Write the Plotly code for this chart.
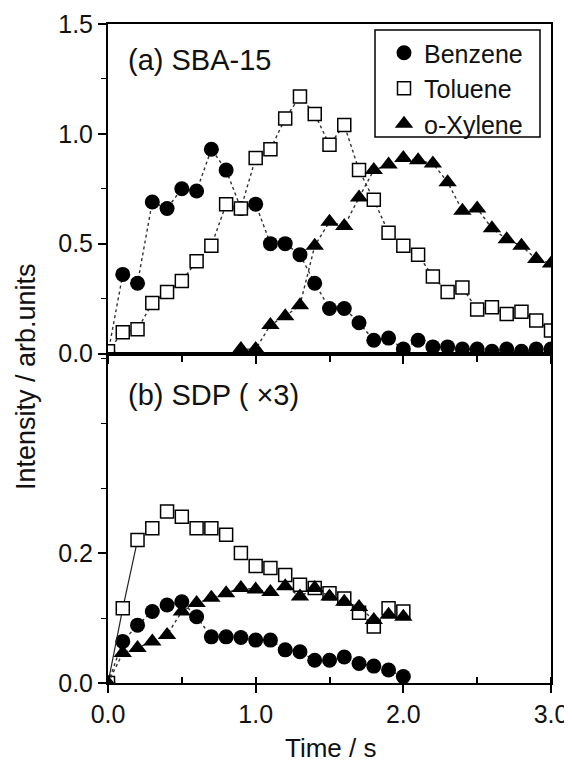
import plotly.graph_objects as go
from plotly.subplots import make_subplots

# ---------------- data ----------------
time_a = [0.0, 0.1, 0.2, 0.3, 0.4, 0.5, 0.6, 0.7, 0.8, 0.9, 1.0,
          1.1, 1.2, 1.3, 1.4, 1.5, 1.6, 1.7, 1.8, 1.9, 2.0,
          2.1, 2.2, 2.3, 2.4, 2.5, 2.6, 2.7, 2.8, 2.9, 3.0]
benzene_a = [0.0, 0.36, 0.32, 0.69, 0.66, 0.75, 0.74, 0.93, 0.835, 0.66, 0.68,
             0.50, 0.50, 0.45, 0.32, 0.205, 0.205, 0.14, 0.06, 0.07, 0.02,
             0.06, 0.03, 0.03, 0.02, 0.02, 0.01, 0.02, 0.01, 0.02, 0.02]
toluene_a = [0.01, 0.097, 0.11, 0.23, 0.28, 0.33, 0.42, 0.49, 0.68, 0.66, 0.89,
             0.93, 1.07, 1.17, 1.09, 0.95, 1.04, 0.835, 0.70, 0.55, 0.49,
             0.45, 0.35, 0.28, 0.30, 0.20, 0.21, 0.18, 0.19, 0.15, 0.105]
time_xyl_a = [0.9, 1.0, 1.1, 1.2, 1.3, 1.4, 1.5, 1.6, 1.7, 1.8, 1.9, 2.0,
              2.1, 2.2, 2.3, 2.4, 2.5, 2.6, 2.7, 2.8, 2.9, 3.0]
xylene_a = [0.02, 0.02, 0.13, 0.17, 0.22, 0.49, 0.60, 0.58, 0.71, 0.835, 0.86, 0.89,
            0.88, 0.865, 0.78, 0.65, 0.66, 0.57, 0.52, 0.49, 0.43, 0.41]

time_b = [0.0, 0.1, 0.2, 0.3, 0.4, 0.5, 0.6, 0.7, 0.8, 0.9, 1.0,
          1.1, 1.2, 1.3, 1.4, 1.5, 1.6, 1.7, 1.8, 1.9, 2.0]
benzene_b = [0.0, 0.064, 0.089, 0.11, 0.12, 0.125, 0.102, 0.071, 0.071, 0.07, 0.066,
             0.066, 0.051, 0.048, 0.035, 0.035, 0.04, 0.03, 0.026, 0.02, 0.01]
toluene_b = [0.0, 0.115, 0.22, 0.238, 0.264, 0.256, 0.238, 0.238, 0.228, 0.20, 0.18,
             0.177, 0.166, 0.151, 0.146, 0.138, 0.13, 0.108, 0.087, 0.115, 0.11]
xylene_b = [0.0, 0.046, 0.054, 0.064, 0.074, 0.11, 0.123, 0.131, 0.138, 0.146, 0.144,
            0.14, 0.149, 0.133, 0.146, 0.133, 0.125, 0.117, 0.097, 0.105, 0.102]

series_names = ["Benzene", "Toluene", "o-Xylene"]
x_tick_vals = [0.0, 1.0, 2.0, 3.0]
x_tick_text = ["0.0", "1.0", "2.0", "3.0"]
ya_tick_vals = [0.0, 0.5, 1.0, 1.5]
ya_tick_text = ["0.0", "0.5", "1.0", "1.5"]
yb_tick_vals = [0.0, 0.2]
yb_tick_text = ["0.0", "0.2"]

# ---------------- figure ----------------
FONT = "Liberation Sans, Arial, Helvetica, sans-serif"
TXT = "#111111"
# page body has an 8px margin -> figure is drawn 8px smaller and offset
OFF = 8
W, H = 572 - OFF, 770 - OFF
PX0, PX1 = 108, 551   # plot area in page pixels (x)
PY0, PY1 = 24, 683    # plot area in page pixels (y)
L, T = PX0 - OFF, PY0 - OFF
R = W - (PX1 - OFF)
B = H - (PY1 - OFF)


def px(xp):
    return (xp - PX0) / (PX1 - PX0)


def py(yp):
    return (PY1 - yp) / (PY1 - PY0)


fig = make_subplots(rows=2, cols=1, shared_xaxes=True, vertical_spacing=0)

dot_line = dict(color="#333333", width=1.4, dash="dot")
circ = dict(symbol="circle", size=15, color="black", line=dict(width=0))
sq = dict(symbol="square", size=13, color="white", line=dict(color="black", width=1.5))
tri = dict(symbol="triangle-up", size=16, color="black", line=dict(width=0))

# panel (a)
fig.add_trace(go.Scatter(x=time_a, y=benzene_a, mode="lines+markers", showlegend=False,
                         line=dot_line, marker=circ), row=1, col=1)
fig.add_trace(go.Scatter(x=time_a, y=toluene_a, mode="lines+markers", showlegend=False,
                         line=dot_line, marker=sq), row=1, col=1)
fig.add_trace(go.Scatter(x=time_xyl_a, y=xylene_a, mode="lines+markers", showlegend=False,
                         line=dot_line, marker=tri), row=1, col=1)

# panel (b)
fig.add_trace(go.Scatter(x=time_b, y=benzene_b, mode="lines+markers", showlegend=False,
                         line=dot_line, marker=circ), row=2, col=1)
fig.add_trace(go.Scatter(x=time_b[:3], y=toluene_b[:3], mode="lines", showlegend=False,
                         line=dict(color="#222222", width=1.2)), row=2, col=1)
fig.add_trace(go.Scatter(x=time_b, y=toluene_b, mode="markers", showlegend=False,
                         marker=sq), row=2, col=1)
fig.add_trace(go.Scatter(x=time_b, y=xylene_b, mode="lines+markers", showlegend=False,
                         line=dot_line, marker=tri), row=2, col=1)

# legend-only entries (markers without lines, as in the original)
for name, mk in zip(series_names, [circ, sq, tri]):
    fig.add_trace(go.Scatter(x=[None], y=[None], mode="markers", name=name,
                             marker=mk, showlegend=True), row=1, col=1)

axis_common = dict(showgrid=False, zeroline=False, showline=True, linecolor="black",
                   linewidth=2, mirror=True, tickcolor="black", tickwidth=1.5,
                   automargin=False,
                   tickfont=dict(family=FONT, size=25, color=TXT))

fig.update_xaxes(range=[0, 3], tickvals=x_tick_vals, ticktext=x_tick_text,
                 ticks="outside", ticklen=8,
                 minor=dict(dtick=0.5, tick0=0, ticks="inside", ticklen=6,
                            tickcolor="black", tickwidth=1.5),
                 **axis_common)
fig.update_xaxes(showticklabels=False, row=1, col=1)
fig.update_xaxes(minor=dict(ticks="outside"), row=1, col=1)

fig.update_yaxes(range=[0, 1.5], tickvals=ya_tick_vals, ticktext=ya_tick_text,
                 ticks="outside", ticklen=8,
                 minor=dict(dtick=0.25, tick0=0, ticks="outside", ticklen=5,
                            tickcolor="black", tickwidth=1.2),
                 row=1, col=1, **axis_common)
fig.update_yaxes(range=[0, 0.507], tickvals=yb_tick_vals, ticktext=yb_tick_text,
                 ticks="outside", ticklen=8,
                 minor=dict(dtick=0.1, tick0=0, ticks="outside", ticklen=5,
                            tickcolor="black", tickwidth=1.2),
                 row=2, col=1, **axis_common)

fig.add_annotation(text="(a) SBA-15", xref="paper", yref="paper",
                   x=px(126), y=py(60), xanchor="left", yanchor="middle",
                   showarrow=False, font=dict(family=FONT, size=29, color=TXT))
fig.add_annotation(text="(b) SDP ( \u00d73)", xref="paper", yref="paper",
                   x=px(126), y=py(395), xanchor="left", yanchor="middle",
                   showarrow=False, font=dict(family=FONT, size=29, color=TXT))
fig.add_annotation(text="Intensity / arb.units", xref="paper", yref="paper",
                   x=px(26), y=py(377), xanchor="center", yanchor="middle",
                   textangle=-90, showarrow=False,
                   font=dict(family=FONT, size=27, color=TXT))
fig.add_annotation(text="Time / s", xref="paper", yref="paper",
                   x=px(330), y=py(748), xanchor="center", yanchor="middle",
                   showarrow=False, font=dict(family=FONT, size=26, color=TXT))

# legend frame
fig.add_shape(type="rect", xref="paper", yref="paper",
              x0=px(375), x1=px(540), y0=py(137), y1=py(30),
              line=dict(color="black", width=1.5), fillcolor="white", layer="below")

fig.update_layout(
    width=W, height=H,
    margin=dict(l=L, r=R, t=T, b=B, pad=0),
    paper_bgcolor="white", plot_bgcolor="white",
    showlegend=True,
    legend=dict(x=px(384), y=py(30), xanchor="left", yanchor="top",
                borderwidth=0, bgcolor="rgba(0,0,0,0)",
                font=dict(family=FONT, size=25, color=TXT),
                itemsizing="trace", tracegroupgap=0),
)

fig.write_html("out.html")
